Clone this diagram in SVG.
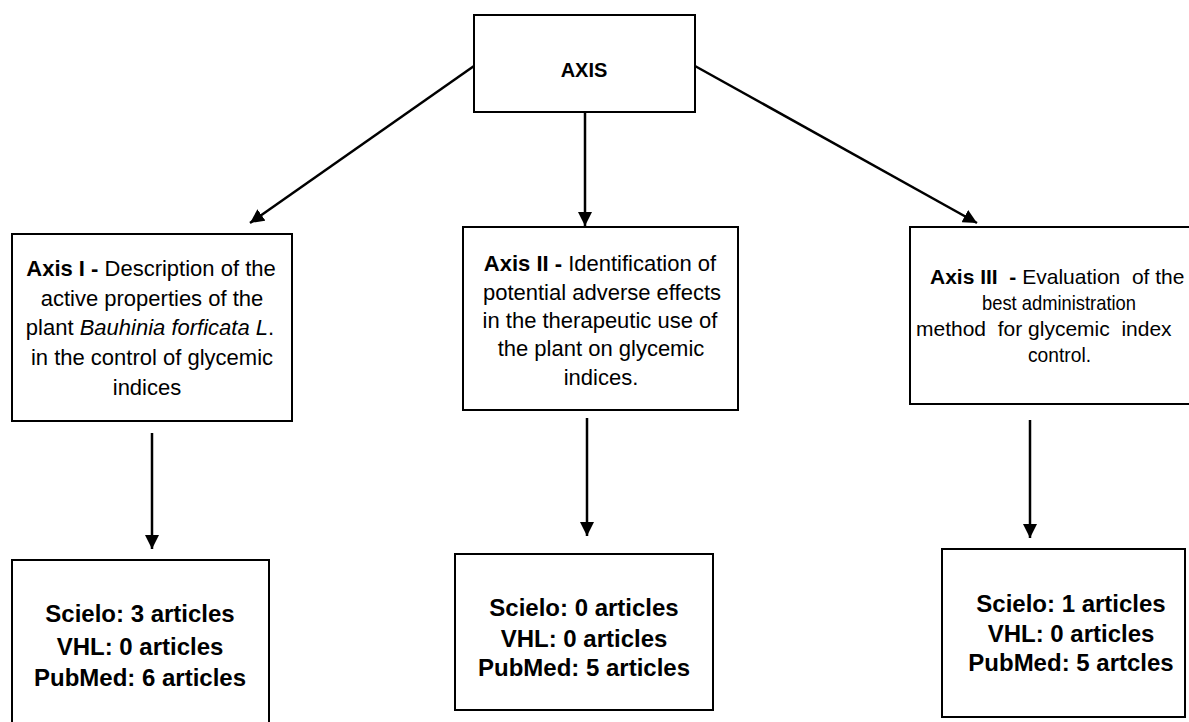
<svg xmlns="http://www.w3.org/2000/svg" width="1189" height="722" viewBox="0 0 1189 722">
<style>
.box{fill:#fff;stroke:#000;stroke-width:2}
.t{font-family:"Liberation Sans",Arial,sans-serif;font-size:22px;fill:#000;text-anchor:middle}
.t3{font-family:"Liberation Sans",Arial,sans-serif;font-size:21px;fill:#000}
.b{font-weight:bold}
.s{font-family:"Liberation Sans",Arial,sans-serif;font-size:24px;font-weight:bold;fill:#000;text-anchor:middle}
.c{stroke:#000;stroke-width:2.5;fill:none;marker-end:url(#ah)}
</style>
<defs>
<marker id="ah" markerUnits="userSpaceOnUse" markerWidth="16" markerHeight="14" refX="14" refY="7" orient="auto">
<path d="M0,0 L14,7 L0,14 Z" fill="#000"/>
</marker>
</defs>
<g id="connectors">
<line class="c" x1="474" y1="66" x2="250" y2="223"/>
<line class="c" x1="585" y1="112" x2="585" y2="226"/>
<line class="c" x1="695" y1="66" x2="977" y2="223"/>
<line class="c" x1="152" y1="433" x2="152" y2="549"/>
<line class="c" x1="587" y1="418" x2="587" y2="536"/>
<line class="c" x1="1030" y1="420" x2="1030" y2="538"/>
</g>
<g id="axis">
<rect class="box" x="474" y="15" width="221" height="97"/>
<text class="t b" x="584" y="77" style="font-size:20px">AXIS</text>
</g>
<g id="axis1">
<rect class="box" x="12" y="234" width="280" height="187"/>
<text class="t" x="151" y="276"><tspan class="b">Axis I - </tspan>Description of the</text>
<text class="t" x="152" y="306">active properties of the</text>
<text class="t" x="150" y="335">plant <tspan font-style="italic">Bauhinia forficata L</tspan>.</text>
<text class="t" x="152" y="365">in the control of glycemic</text>
<text class="t" x="147" y="395">indices</text>
</g>
<g id="axis2">
<rect class="box" x="463" y="227" width="275" height="183"/>
<text class="t" x="600" y="271"><tspan class="b">Axis II - </tspan>Identification of</text>
<text class="t" x="602" y="300">potential adverse effects</text>
<text class="t" x="600" y="328">in the therapeutic use of</text>
<text class="t" x="601" y="356">the plant on glycemic</text>
<text class="t" x="601" y="385">indices.</text>
</g>
<g id="axis3">
<rect class="box" x="910" y="227" width="285" height="177"/>
<text class="t3" x="930" y="284" xml:space="preserve"><tspan class="b">Axis III  - </tspan>Evaluation  of the</text>
<text class="t3" x="982" y="310" textLength="154" lengthAdjust="spacingAndGlyphs">best administration</text>
<text class="t3" x="916" y="336" xml:space="preserve">method  for glycemic  index</text>
<text class="t3" x="1028" y="362" textLength="63" lengthAdjust="spacingAndGlyphs">control.</text>
</g>
<g id="result1">
<rect class="box" x="12" y="560" width="257" height="170"/>
<text class="s" x="140" y="622">Scielo: 3 articles</text>
<text class="s" x="140" y="655">VHL: 0 articles</text>
<text class="s" x="140" y="686">PubMed: 6 articles</text>
</g>
<g id="result2">
<rect class="box" x="455" y="554" width="258" height="156"/>
<text class="s" x="584" y="616">Scielo: 0 articles</text>
<text class="s" x="584" y="647">VHL: 0 articles</text>
<text class="s" x="584" y="676">PubMed: 5 articles</text>
</g>
<g id="result3">
<rect class="box" x="942" y="549" width="243" height="168"/>
<text class="s" x="1071" y="612">Scielo: 1 articles</text>
<text class="s" x="1071" y="642">VHL: 0 articles</text>
<text class="s" x="1071" y="671">PubMed: 5 artcles</text>
</g>
</svg>
